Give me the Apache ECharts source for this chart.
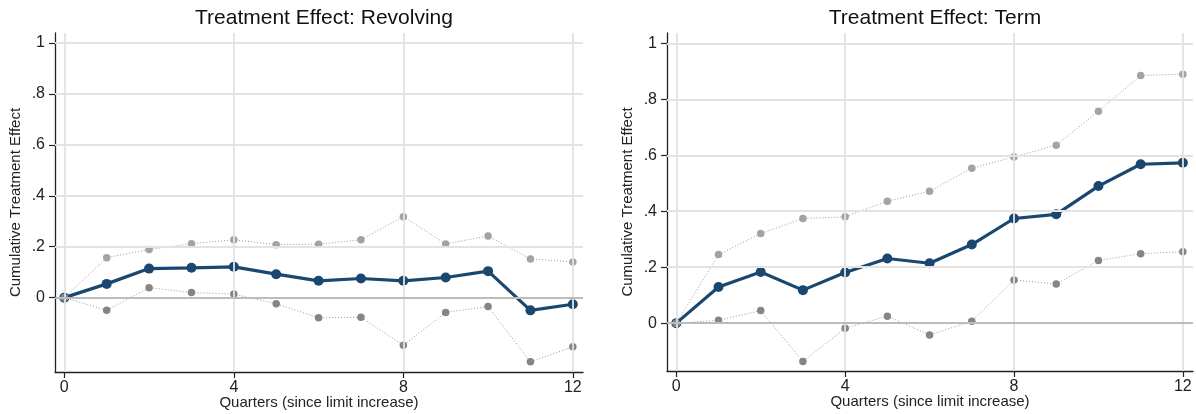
<!DOCTYPE html>
<html>
<head>
<meta charset="utf-8">
<script src="https://cdn.jsdelivr.net/npm/echarts@6/dist/echarts.min.js"></script>
<style>
html,body{margin:0;padding:0;background:#fff;}
#c{width:1196px;height:414px;}
</style>
</head>
<body>
<div id="c"></div>
<script>
// Data
const quarters = [0,1,2,3,4,5,6,7,8,9,10,11,12];
const revEffect = [0,0.054,0.114,0.117,0.121,0.092,0.066,0.075,0.066,0.079,0.104,-0.050,-0.026];
const revUpper  = [0,0.157,0.189,0.212,0.227,0.208,0.210,0.227,0.318,0.211,0.242,0.152,0.140];
const revLower  = [0,-0.050,0.039,0.020,0.014,-0.024,-0.079,-0.077,-0.187,-0.058,-0.035,-0.252,-0.193];
const termEffect = [0,0.129,0.183,0.118,0.181,0.231,0.214,0.281,0.374,0.389,0.490,0.568,0.573];
const termUpper  = [0,0.245,0.320,0.374,0.380,0.436,0.471,0.554,0.594,0.636,0.757,0.885,0.890];
const termLower  = [0,0.010,0.045,-0.137,-0.018,0.025,-0.042,0.007,0.154,0.140,0.224,0.248,0.255];
const yTicks = [0,0.2,0.4,0.6,0.8,1];
const yTickLabels = ['0','.2','.4','.6','.8','1'];
const xTicks = [0,4,8,12];
const titles = ['Treatment Effect: Revolving','Treatment Effect: Term'];
const xName = 'Quarters (since limit increase)';
const yName = 'Cumulative Treatment Effect';

const FONT = 'Liberation Sans, Arial, sans-serif';
const pair = a => quarters.map((q,i)=>[q,a[i]]);

const grids = [
  {left:55, top:33, width:528, height:339, outerBoundsMode:'none', containLabel:false},
  {left:667, top:33, width:526, height:338, outerBoundsMode:'none', containLabel:false}
];
const yRanges = [[-0.292,1.039],[-0.171,1.037]];

function xAxis(i){
  return {
    type:'value', gridIndex:i, min:-0.22, max:12.24,
    name:xName, nameLocation:'middle', nameGap:23, nameMoveOverlap:false,
    nameTextStyle:{fontFamily:FONT,fontSize:15,color:'#222'},
    axisLine:{show:true,onZero:false,lineStyle:{color:'#222',width:1.3}},
    axisTick:{show:true,customValues:xTicks,length:6,lineStyle:{color:'#222',width:1.2}},
    axisLabel:{customValues:xTicks,fontFamily:FONT,fontSize:16,color:'#222',margin:8},
    splitLine:{show:false}
  };
}
function yAxis(i){
  return {
    type:'value', gridIndex:i, min:yRanges[i][0], max:yRanges[i][1],
    name:yName, nameLocation:'middle', nameGap:32, nameRotate:90, nameMoveOverlap:false,
    nameTextStyle:{fontFamily:FONT,fontSize:15,color:'#222'},
    axisLine:{show:true,onZero:false,lineStyle:{color:'#222',width:1.3}},
    axisTick:{show:true,customValues:yTicks,length:6,lineStyle:{color:'#222',width:1.2}},
    axisLabel:{customValues:yTicks,fontFamily:FONT,fontSize:16,color:'#222',margin:10,
      formatter:v=>{const k=yTicks.findIndex(t=>Math.abs(t-v)<1e-9);return k>=0?yTickLabels[k]:'';}},
    splitLine:{show:false}
  };
}

function gridLines(i){
  const data = [];
  yTicks.filter(v=>v!==0).forEach(v=>data.push({yAxis:v,lineStyle:{color:'#e3e3e3',width:1.8,type:'solid'}}));
  xTicks.forEach(v=>data.push({xAxis:v,lineStyle:{color:'#e3e3e3',width:1.8,type:'solid'}}));
  data.push({yAxis:0,lineStyle:{color:'#bcbcbc',width:1.8,type:'solid'}});
  return {
    type:'line', xAxisIndex:i, yAxisIndex:i, data:[], silent:true, z:1,
    markLine:{silent:true,symbol:['none','none'],label:{show:false},animation:false,data:data}
  };
}
function ciSeries(i,arr,col){
  return {
    type:'line', xAxisIndex:i, yAxisIndex:i, data:pair(arr), z:4,
    symbol:'circle', symbolSize:7.5, itemStyle:{color:col},
    lineStyle:{color:'#9a9a9a',width:1,type:[1,2]},
    animation:false, silent:true
  };
}
function mainSeries(i,arr){
  return {
    type:'line', xAxisIndex:i, yAxisIndex:i, data:pair(arr), z:3,
    symbol:'circle', symbolSize:10, itemStyle:{color:'#1a476f'},
    lineStyle:{color:'#1a476f',width:3.2},
    animation:false, silent:true
  };
}

const chart = echarts.init(document.getElementById('c'));
chart.setOption({
  animation:false,
  backgroundColor:'#fff',
  title:[
    {text:titles[0],left:319,top:3,textAlign:'center',textStyle:{fontFamily:FONT,fontSize:21,fontWeight:'normal',color:'#111'}},
    {text:titles[1],left:930,top:3,textAlign:'center',textStyle:{fontFamily:FONT,fontSize:21,fontWeight:'normal',color:'#111'}}
  ],
  grid:grids,
  xAxis:[xAxis(0),xAxis(1)],
  yAxis:[yAxis(0),yAxis(1)],
  series:[
    gridLines(0), gridLines(1),
    mainSeries(0,revEffect), ciSeries(0,revUpper,'#a3a3a3'), ciSeries(0,revLower,'#858585'),
    mainSeries(1,termEffect), ciSeries(1,termUpper,'#a3a3a3'), ciSeries(1,termLower,'#858585')
  ]
});
</script>
</body>
</html>
